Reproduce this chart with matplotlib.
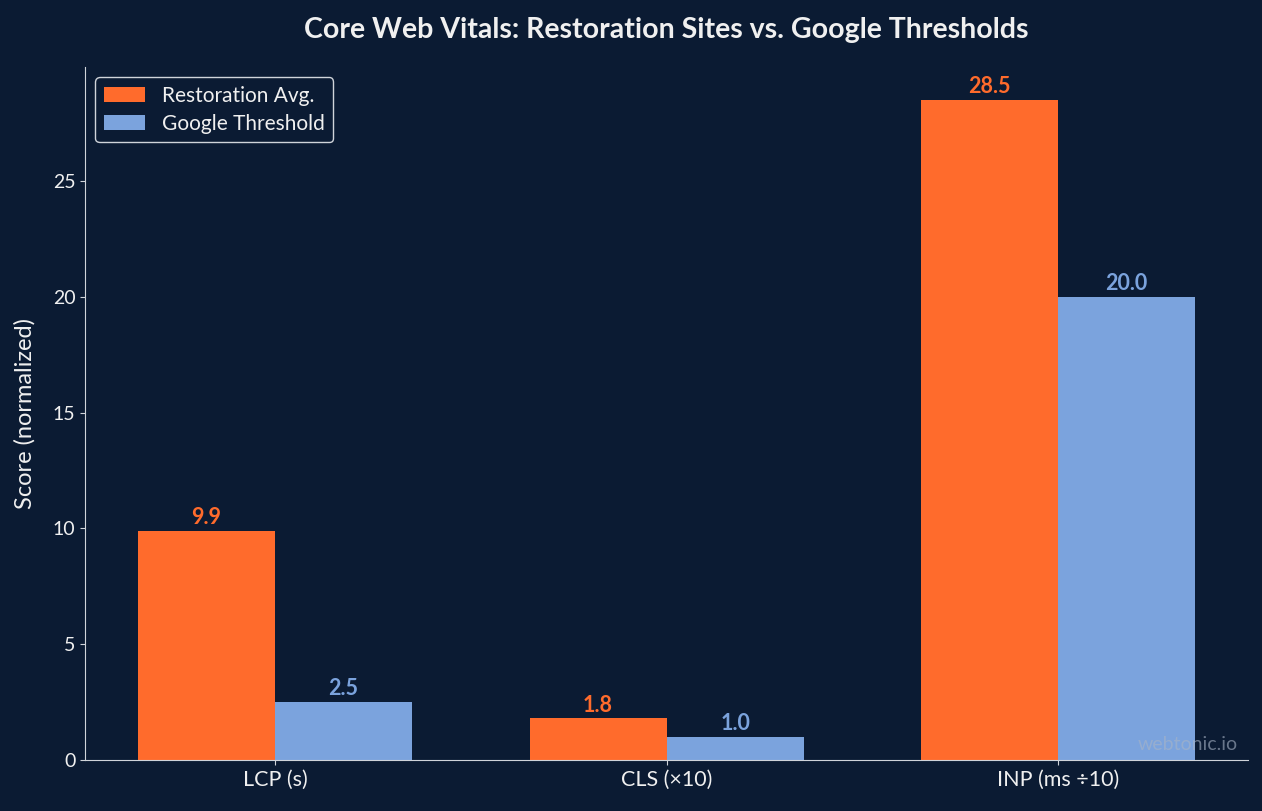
import matplotlib
matplotlib.use("Agg")
import matplotlib.pyplot as plt
import numpy as np

categories = ["LCP (s)", "CLS (×10)", "INP (ms ÷10)"]
restoration_avg = [9.9, 1.8, 28.5]
google_threshold = [2.5, 1.0, 20.0]
series_names = ["Restoration Avg.", "Google Threshold"]

BG = "#0b1b33"
ORANGE = "#ff6b2c"
BLUE = "#7ba3dd"
TXT = "#f0f0f0"
SPINE = "#d0d4da"

plt.rcParams['font.family'] = ['Lato', 'DejaVu Sans']

fig = plt.figure(figsize=(12.62, 8.11), dpi=100, facecolor=BG)
ax = fig.add_axes([0.0674, 0.0629, 0.9216, 0.8545])
ax.set_facecolor(BG)

x = np.arange(len(categories))
w = 0.35
b1 = ax.bar(x - w/2, restoration_avg, w, color=ORANGE, label=series_names[0])
b2 = ax.bar(x + w/2, google_threshold, w, color=BLUE, label=series_names[1])

for bars, vals, col in [(b1, restoration_avg, ORANGE), (b2, google_threshold, BLUE)]:
    for r, v in zip(bars, vals):
        ax.annotate(f"{v:.1f}", (r.get_x() + r.get_width()/2, v), xytext=(0, 2),
                    textcoords="offset points", ha="center", va="bottom",
                    color=col, fontsize=15.5, fontweight="bold")

ax.set_ylim(0, max(restoration_avg) * 1.05)
ax.set_xticks(x)
ax.set_xticklabels(categories)
ax.tick_params(colors=SPINE, labelcolor=TXT)
ax.tick_params(axis="x", labelsize=15.5)
ax.tick_params(axis="y", labelsize=14)
ax.set_ylabel("Score (normalized)", color=TXT, fontsize=17, labelpad=12)
ax.set_title("Core Web Vitals: Restoration Sites vs. Google Thresholds",
             color=TXT, fontsize=20.5, fontweight="bold", pad=21)
for s in ["top", "right"]:
    ax.spines[s].set_visible(False)
for s in ["left", "bottom"]:
    ax.spines[s].set_color(SPINE)

leg = ax.legend(loc="upper left", fontsize=15, facecolor=BG, edgecolor=SPINE,
                labelcolor=TXT, framealpha=1, labelspacing=0.4)

ax.text(0.991, 0.01, "webtonic.io", transform=ax.transAxes, ha="right", va="bottom",
        color="#a8b4c6", alpha=0.6, fontsize=14, zorder=10)

fig.savefig("out.png", dpi=100, facecolor=BG)
